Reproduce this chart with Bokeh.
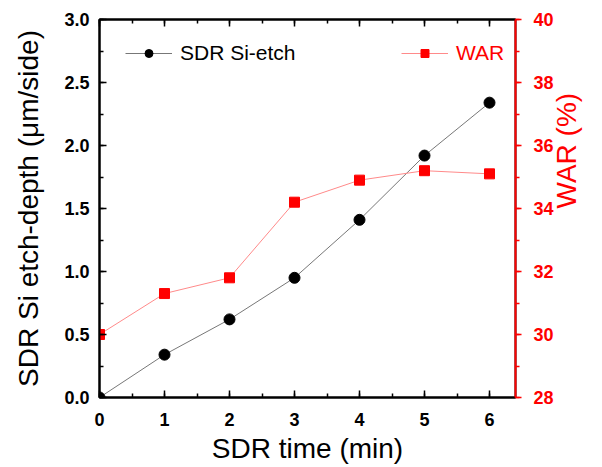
import math
from bokeh.plotting import figure
from bokeh.models import (Range1d, LinearAxis, SingleIntervalTicker, NumeralTickFormatter,
                          Legend, LegendItem, ColumnDataSource, CustomJSTickFormatter)
from bokeh.embed import file_html
from bokeh.resources import INLINE

time_min = [0, 1, 2, 3, 4, 5, 6]
si_etch = [0.0, 0.34, 0.62, 0.95, 1.41, 1.92, 2.34]
war = [30.0, 31.3, 31.8, 34.2, 34.9, 35.2, 35.1]

FONT = "Liberation Sans"

p = figure(width=600, height=467, output_backend="svg", toolbar_location=None,
           x_range=Range1d(0, 6.4), y_range=Range1d(0, 3.0),
           min_border_left=99, min_border_right=83, min_border_top=19, min_border_bottom=70)
p.extra_y_ranges = {"war": Range1d(28, 40)}
p.xgrid.visible = False
p.ygrid.visible = False
p.outline_line_color = "black"
p.outline_line_width = 2
p.background_fill_color = "white"
p.border_fill_color = "white"

src = ColumnDataSource(dict(t=time_min, d=si_etch, w=war))

l1 = p.line("t", "d", source=src, line_color="#777777", line_width=1)
m1 = p.scatter("t", "d", source=src, marker="circle", size=11, fill_color="black", line_color="black")
l2 = p.line("t", "w", source=src, y_range_name="war", line_color="#ff8a8a", line_width=1)
m2 = p.scatter("t", "w", source=src, y_range_name="war", marker="square", size=10,
               fill_color="#ff0000", line_color="#ff0000")

def style_axis(ax, color):
    ax.axis_line_color = color
    ax.axis_line_width = 2
    ax.major_tick_line_color = color
    ax.minor_tick_line_color = color
    ax.major_tick_line_width = 1.5
    ax.minor_tick_line_width = 1.5
    ax.major_label_text_color = color
    ax.major_label_text_font = FONT
    ax.major_label_text_font_style = "bold"
    ax.major_label_text_font_size = "18px"
    ax.axis_label_text_color = color
    ax.axis_label_text_font = FONT
    ax.axis_label_text_font_style = "normal"
    ax.axis_label_text_font_size = "28px"

# bottom
xa = p.xaxis[0]
xa.ticker = SingleIntervalTicker(interval=1, num_minor_ticks=2)
style_axis(xa, "black")
xa.major_tick_in = 7
xa.major_tick_out = 0
xa.minor_tick_in = 4
xa.minor_tick_out = 0
xa.major_label_standoff = 15
xa.axis_label = "SDR time (min)"
xa.axis_label_standoff = 4

# left
ya = p.yaxis[0]
ya.ticker = SingleIntervalTicker(interval=0.5, num_minor_ticks=2)
ya.formatter = NumeralTickFormatter(format="0.0")
style_axis(ya, "black")
ya.major_tick_in = 7
ya.major_tick_out = 0
ya.minor_tick_in = 4
ya.minor_tick_out = 0
ya.major_label_standoff = 10
ya.axis_label = "SDR Si etch-depth (\u03bcm/side)"
ya.axis_label_standoff = 17

# right
ra = LinearAxis(y_range_name="war", ticker=SingleIntervalTicker(interval=2, num_minor_ticks=2))
style_axis(ra, "#ff0000")
ra.major_tick_in = 0
ra.major_tick_out = 6
ra.minor_tick_in = 0
ra.minor_tick_out = 4
ra.major_label_standoff = 12
ra.axis_label = "WAR (%)"
ra.axis_label_standoff = 10
try:
    ra.axis_label_orientation = math.pi / 2
except Exception:
    pass
p.add_layout(ra, "right")

# top (ticks only)
ta = LinearAxis(ticker=SingleIntervalTicker(interval=1, num_minor_ticks=2),
                formatter=CustomJSTickFormatter(code="return ''"))
ta.axis_line_color = "black"
ta.axis_line_width = 2
ta.major_tick_in = 7
ta.major_tick_out = 0
ta.minor_tick_in = 4
ta.minor_tick_out = 0
ta.major_tick_line_width = 1.5
ta.minor_tick_line_width = 1.5
ta.major_label_standoff = 0
p.add_layout(ta, "above")

def make_legend(items, loc):
    lg = Legend(items=items, location=loc, orientation="vertical")
    lg.background_fill_alpha = 0
    lg.border_line_color = None
    lg.padding = 0
    lg.margin = 0
    lg.spacing = 0
    lg.glyph_width = 47
    lg.glyph_height = 20
    lg.label_standoff = 8
    lg.label_text_font = FONT
    lg.label_text_font_size = "21px"
    lg.label_text_color = "black"
    return lg

lg1 = make_legend([LegendItem(label="SDR Si-etch", renderers=[l1, m1])], (26, 332))
lg2 = make_legend([LegendItem(label="WAR", renderers=[l2, m2])], (302, 332))
lg2.label_text_color = "#ff0000"
p.add_layout(lg1)
p.add_layout(lg2)

open("out.html", "w").write(file_html(p, INLINE))
